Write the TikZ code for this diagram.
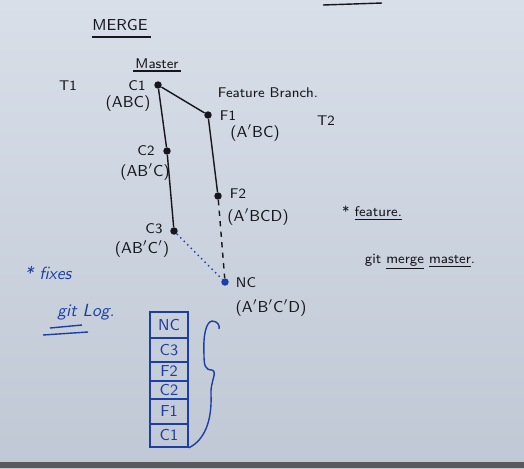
\documentclass[tikz,border=0pt]{standalone}
\usetikzlibrary{positioning}
\definecolor{board}{RGB}{216,223,233}
\definecolor{boardlow}{RGB}{192,200,213}
\definecolor{ink}{RGB}{22,22,28}
\definecolor{marker}{RGB}{28,62,165}
\tikzset{commit/.style={circle,fill=ink,inner sep=1.5pt},
  lbl/.style={font=\sffamily\footnotesize,text=ink,inner sep=1pt},
  snap/.style={font=\sffamily\small,text=ink,inner sep=1pt},
  bluetxt/.style={font=\sffamily\itshape,text=marker,inner sep=1pt},
  logbox/.style={draw=marker,line width=0.9pt,text=marker,font=\sffamily\small,minimum width=0.76cm,inner sep=0pt}}

\begin{document}
\begin{tikzpicture}[x=0.02cm,y=-0.02cm]
            % board
            \fill[top color=board,bottom color=boardlow] (0,0) rectangle (524,468);
            \useasboundingbox (0,0) rectangle (524,468);
            \fill[black!65] (0,462) rectangle (524,468);
            \draw[ink,thick] (323,5) -- (382,3);
            % title
            \node[snap] (title) at (120,25) {MERGE};
            \draw[ink,thick] (92,37) -- (151,37);
            \node[lbl] (master) at (157,64) {Master};
            \draw[ink,thick] (133,71) -- (181,71);
            \node[lbl] (t1) at (68,86) {T1};
            \node[lbl] (t2) at (326,121) {T2};
            \node[lbl] (branch) at (268,93) {Feature Branch.};
            % commits
            \node[commit] (c1) at (158,85) {};
            \node[commit] (c2) at (167,151) {};
            \node[commit] (c3) at (174,231) {};
            \node[commit] (f1) at (208,115) {};
            \node[commit] (f2) at (218,196) {};
            \node[commit,fill=marker] (nc) at (225,282) {};
            \node[lbl] (c1n) at (137,86) {C1};
            \node[snap] (c1s) at (128,104) {(ABC)};
            \node[lbl] (c2n) at (146,151) {C2};
            \node[snap] (c2s) at (145,172) {(AB$'$C)};
            \node[lbl] (c3n) at (154,229) {C3};
            \node[snap] (c3s) at (142,249) {(AB$'$C$'$)};
            \node[lbl] (f1n) at (228,116) {F1};
            \node[snap] (f1s) at (255,133) {(A$'$BC)};
            \node[lbl] (f2n) at (238,194) {F2};
            \node[snap] (f2s) at (258,217) {(A$'$BCD)};
            \node[lbl] (ncn) at (246,283) {NC};
            \node[snap] (ncs) at (271,308) {(A$'$B$'$C$'$D)};
            \draw[ink,thick] (c1) -- (c2) -- (c3);
            \draw[ink,thick] (c1) -- (f1) -- (f2);
            \draw[ink,thick,dashed] (f2) -- (nc);
            \draw[marker,thick,dotted] (c3) -- (nc);
            % notes
            \node[lbl] (feat) at (372,213) {* \underline{feature.}};
            \node[lbl] (gitmerge) at (420,262) {git \underline{merge} \underline{master}.};
            \node[bluetxt] (fixes) at (48,273) {* fixes};
            \node[bluetxt] (gitlog) at (86,312) {git Log.};
            \draw[marker,thick] (50,328) -- (82,325);
            \draw[marker,thick] (43,335) -- (88,332);
            % log stack
            \node[logbox,minimum height=0.52cm] (lnc) at (169,325) {NC};
            \node[logbox,minimum height=0.48cm,below=-0.9pt of lnc] (lc3) {C3};
            \node[logbox,minimum height=0.38cm,below=-0.9pt of lc3] (lf2) {F2};
            \node[logbox,minimum height=0.36cm,below=-0.9pt of lf2] (lc2) {C2};
            \node[logbox,minimum height=0.50cm,below=-0.9pt of lc2] (lf1) {F1};
            \node[logbox,minimum height=0.46cm,below=-0.9pt of lf1] (lc1) {C1};
            \draw[marker,thick] (lc1.south east) .. controls (205,440) and (212,420) .. (211,395)
                .. controls (210,382) and (218,372) .. (212,370)
                .. controls (205,370) and (204,365) .. (204,355)
                .. controls (203,335) and (206,322) .. (212,321)
                .. controls (218,321) and (220,326) .. (219,329);
\end{tikzpicture}
\end{document}
